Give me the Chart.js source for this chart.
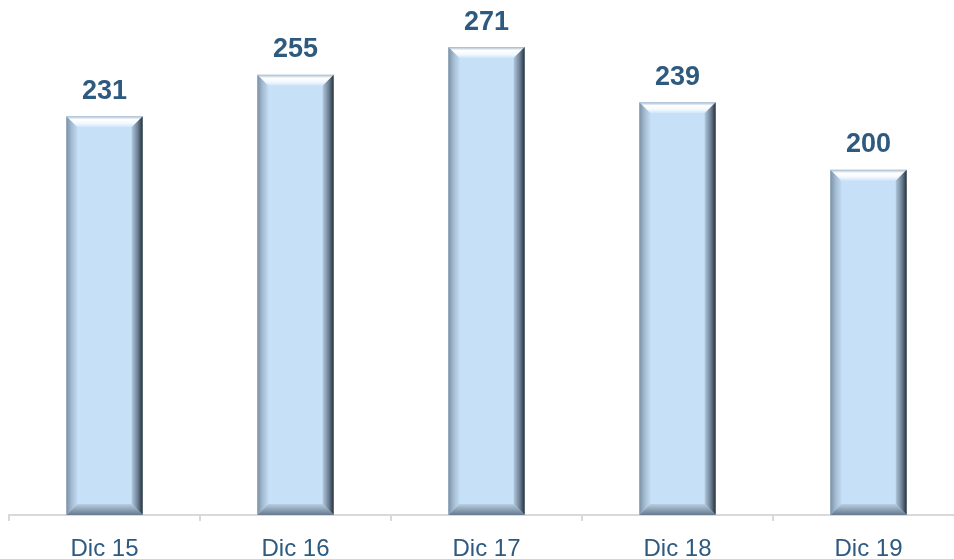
<!DOCTYPE html>
<html>
<head>
<meta charset="utf-8">
<script src="https://cdn.jsdelivr.net/npm/chart.js@4/dist/chart.umd.min.js"></script>
<style>
  html, body { margin: 0; padding: 0; background: #fff; overflow: hidden; }
  #wrap { position: absolute; left: 0; top: -3px; width: 968px; height: 562px; }
</style>
</head>
<body>
<div id="wrap"><canvas id="chart"></canvas></div>
<script>
// Datos
const categorias = ["Dic 15", "Dic 16", "Dic 17", "Dic 18", "Dic 19"];
const valores = [231, 255, 271, 239, 200];
const ejeMax = 300;

const colorTexto = "#2f5a80";
const colorBarra = "#c6e0f8";

// bisel de cada barra + etiqueta de valor
const biselPlugin = {
  id: "bisel",
  afterDatasetsDraw(chart) {
    const ctx = chart.ctx;
    const meta = chart.getDatasetMeta(0);
    meta.data.forEach((bar, i) => {
      const L = bar.x - bar.width / 2;
      const R = bar.x + bar.width / 2;
      const T = bar.y;
      const B = bar.base;
      const b = 11;
      ctx.save();

      // arriba
      let g = ctx.createLinearGradient(0, T, 0, T + b);
      g.addColorStop(0, "#a3b8cc");
      g.addColorStop(0.3, "#ffffff");
      g.addColorStop(0.65, "#f4f9fe");
      g.addColorStop(1, "#cfe5fa");
      ctx.fillStyle = g;
      ctx.beginPath();
      ctx.moveTo(L, T); ctx.lineTo(R, T); ctx.lineTo(R - b, T + b); ctx.lineTo(L + b, T + b);
      ctx.closePath(); ctx.fill();

      // izquierda
      g = ctx.createLinearGradient(L, 0, L + b, 0);
      g.addColorStop(0, "#7a8fa4");
      g.addColorStop(0.5, "#a5bdd3");
      g.addColorStop(1, "#c2daf1");
      ctx.fillStyle = g;
      ctx.beginPath();
      ctx.moveTo(L, T); ctx.lineTo(L + b, T + b); ctx.lineTo(L + b, B - b); ctx.lineTo(L, B);
      ctx.closePath(); ctx.fill();

      // derecha
      g = ctx.createLinearGradient(R - b, 0, R, 0);
      g.addColorStop(0, "#b0c7dc");
      g.addColorStop(0.55, "#6d8195");
      g.addColorStop(1, "#25303a");
      ctx.fillStyle = g;
      ctx.beginPath();
      ctx.moveTo(R, T); ctx.lineTo(R, B); ctx.lineTo(R - b, B - b); ctx.lineTo(R - b, T + b);
      ctx.closePath(); ctx.fill();

      // abajo
      g = ctx.createLinearGradient(0, B - b, 0, B);
      g.addColorStop(0, "#b8cee2");
      g.addColorStop(1, "#66798c");
      ctx.fillStyle = g;
      ctx.beginPath();
      ctx.moveTo(L, B); ctx.lineTo(R, B); ctx.lineTo(R - b, B - b); ctx.lineTo(L + b, B - b);
      ctx.closePath(); ctx.fill();

      // valor
      ctx.fillStyle = colorTexto;
      ctx.font = "bold 27px 'Liberation Sans', Arial, sans-serif";
      ctx.textAlign = "center";
      ctx.textBaseline = "middle";
      ctx.fillText(String(valores[i]), bar.x, T - 25);
      ctx.restore();
    });
  }
};

new Chart(document.getElementById("chart"), {
  type: "bar",
  data: {
    labels: categorias,
    datasets: [{
      data: valores,
      backgroundColor: colorBarra,
      borderWidth: 0,
      barPercentage: 0.4,
      categoryPercentage: 1
    }]
  },
  options: {
    responsive: true,
    maintainAspectRatio: false,
    animation: false,
    layout: { padding: { left: 9, right: 4, top: 0, bottom: 0 } },
    plugins: { legend: { display: false }, tooltip: { enabled: false } },
    scales: {
      x: {
        grid: { display: true, drawOnChartArea: false, offset: true, color: "#d9d9d9", lineWidth: 2, tickLength: 6 },
        border: { display: true, color: "#d9d9d9", width: 2 },
        ticks: { color: colorTexto, font: { family: "'Liberation Sans', Arial, sans-serif", size: 24 }, padding: 14 },
        afterFit(scale) { scale.height = 44; }
      },
      y: { display: false, min: 0, max: ejeMax }
    }
  },
  plugins: [biselPlugin]
});
</script>
</body>
</html>
